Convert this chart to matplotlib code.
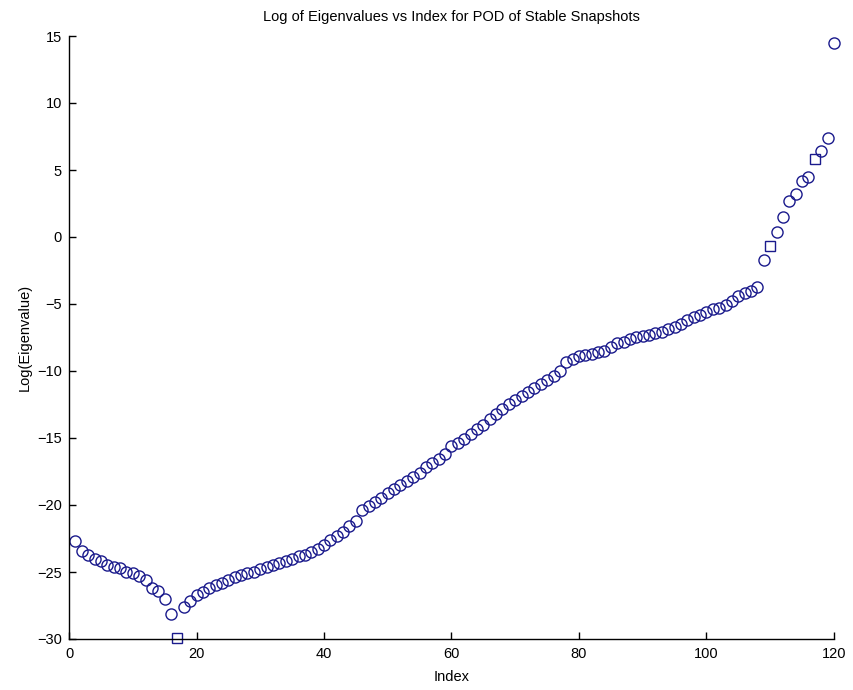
import matplotlib
matplotlib.use("Agg")
import matplotlib.pyplot as plt
import numpy as np

plt.rcParams['font.family'] = ['Liberation Sans', 'DejaVu Sans']

index = list(range(1, 121))
log_eig = [
    -22.7, -23.4, -23.7, -24.0, -24.2, -24.5, -24.6, -24.7, -25.0, -25.1,
    -25.3, -25.6, -26.2, -26.4, -27.0, -28.1, -29.95, -27.6, -27.2, -26.7,
    -26.5, -26.2, -26.0, -25.8, -25.6, -25.4, -25.2, -25.1, -25.0, -24.8,
    -24.6, -24.5, -24.3, -24.2, -24.0, -23.8, -23.7, -23.5, -23.3, -23.0,
    -22.6, -22.3, -22.0, -21.6, -21.2, -20.4, -20.1, -19.8, -19.5, -19.1,
    -18.8, -18.5, -18.2, -17.9, -17.6, -17.2, -16.9, -16.6, -16.2, -15.6,
    -15.4, -15.1, -14.7, -14.3, -14.0, -13.6, -13.2, -12.8, -12.5, -12.2,
    -11.9, -11.6, -11.3, -11.0, -10.7, -10.4, -10.0, -9.3, -9.1, -8.9,
    -8.8, -8.7, -8.6, -8.5, -8.2, -7.9, -7.8, -7.6, -7.5, -7.4,
    -7.3, -7.2, -7.1, -6.9, -6.7, -6.5, -6.2, -6.0, -5.8, -5.6,
    -5.4, -5.3, -5.1, -4.8, -4.4, -4.2, -4.0, -3.7, -1.7, -0.7,
    0.4, 1.5, 2.7, 3.2, 4.2, 4.5, 5.8, 6.4, 7.4, 14.45,
]
square_idx = [17, 110, 117]

xticks = [0, 20, 40, 60, 80, 100, 120]
yticks = [-30, -25, -20, -15, -10, -5, 0, 5, 10, 15]

fig = plt.figure(figsize=(8.54, 6.90), dpi=100)
ax = fig.add_axes([69/854, 51/690, 765/854, 603/690])

col = '#1a1a8c'
x = np.array(index)
y = np.array(log_eig)
is_sq = np.isin(x, square_idx)
ax.plot(x[~is_sq], y[~is_sq], linestyle='none', marker='o', markersize=8,
        markerfacecolor='none', markeredgecolor=col, markeredgewidth=1.0, clip_on=False)
ax.plot(x[is_sq], y[is_sq], linestyle='none', marker='s', markersize=6.5,
        markerfacecolor='none', markeredgecolor=col, markeredgewidth=1.0, clip_on=False)

ax.set_xlim(0, 120)
ax.set_ylim(-30, 15)
ax.set_xticks(xticks)
ax.set_yticks(yticks)
ax.spines['top'].set_visible(False)
ax.spines['right'].set_visible(False)
for s in ['left', 'bottom']:
    ax.spines[s].set_linewidth(1.0)
ax.tick_params(direction='in', length=5, width=1.0, labelsize=10.5)
ax.tick_params(axis='x', pad=6)
ax.tick_params(axis='y', pad=5)

ax.set_title('Log of Eigenvalues vs Index for POD of Stable Snapshots', fontsize=10.5, pad=11)
ax.set_xlabel('Index', fontsize=10.5, labelpad=6)
ax.set_ylabel('Log(Eigenvalue)', fontsize=10.5, labelpad=4)

fig.savefig('out.png', dpi=100)
